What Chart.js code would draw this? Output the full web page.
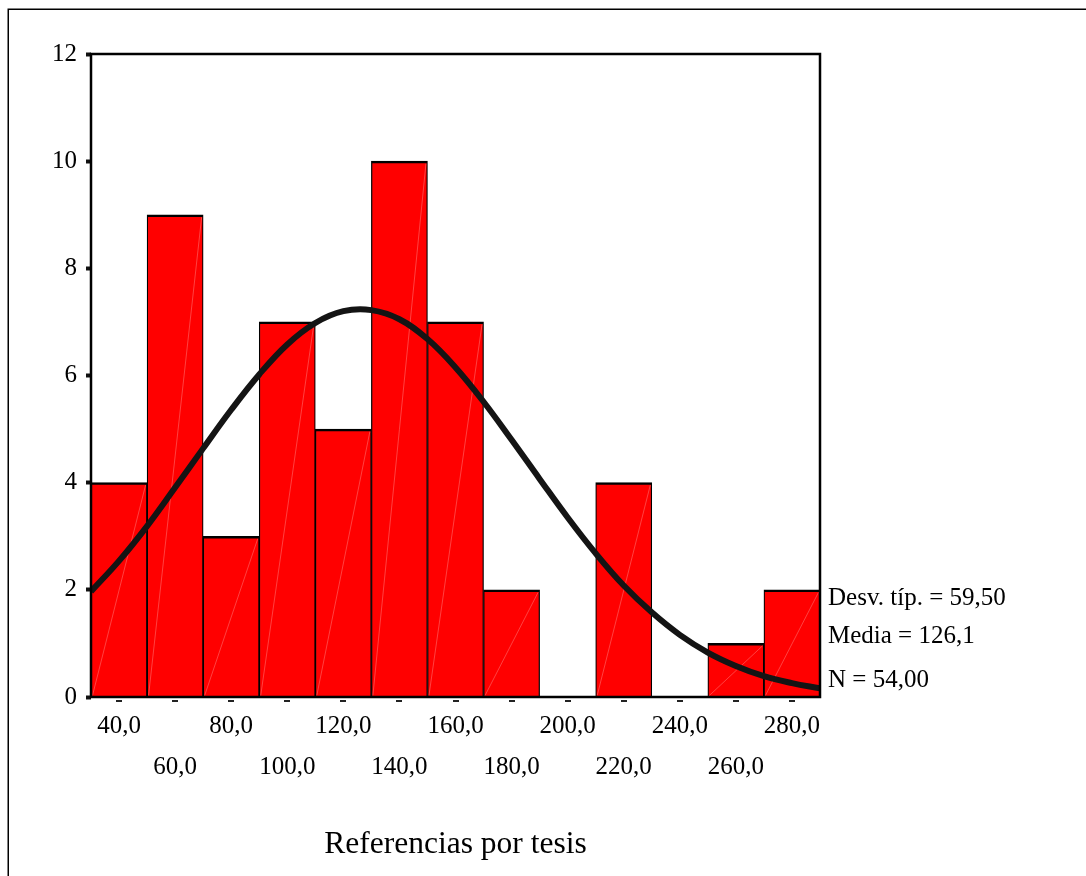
<!DOCTYPE html>
<html lang="es">
<head>
<meta charset="utf-8">
<title>Referencias por tesis</title>
<script src="https://cdn.jsdelivr.net/npm/chart.js@4/dist/chart.umd.min.js"></script>
<style>
  html, body { margin: 0; padding: 0; background: #ffffff; }
  canvas { display: block; }
</style>
</head>
<body>
<canvas id="hist" width="1086" height="876"></canvas>
<script>
// Histogram bins (centre of each 20-wide class) and their frequencies
const binCenters = [40, 60, 80, 100, 120, 140, 160, 180, 200, 220, 240, 260, 280];
const binCounts  = [4, 9, 3, 7, 5, 10, 7, 2, 0, 4, 0, 1, 2];

// Fitted normal curve, sampled every 10 units across the axis range
const curveX = [30, 40, 50, 60, 70, 80, 90, 100, 110, 120, 130, 140, 150, 160,
                170, 180, 190, 200, 210, 220, 230, 240, 250, 260, 270, 280, 290];
const curveY = [1.97, 2.54, 3.19, 3.91, 4.64, 5.36, 6.02, 6.58, 6.98, 7.20, 7.22, 7.05, 6.68, 6.15,
                5.51, 4.80, 4.07, 3.35, 2.68, 2.08, 1.58, 1.16, 0.83, 0.58, 0.39, 0.26, 0.16];

// Y axis ticks
const yTicks = [0, 2, 4, 6, 8, 10, 12];

// Summary statistics
const statStdDev = 59.50;
const statMean = 126.1;
const statN = 54;

const axisTitle = 'Referencias por tesis';
const serif = '"Liberation Serif", "Times New Roman", Times, serif';

const comma = (v, d) => v.toFixed(d).replace('.', ',');
const statLines = [
  'Desv. típ. = ' + comma(statStdDev, 2),
  'Media = ' + comma(statMean, 1),
  'N = ' + comma(statN, 2)
];

// Outer frame of the output panel (top and left edges)
const panelFrame = {
  id: 'panelFrame',
  beforeDraw(chart) {
    const ctx = chart.ctx;
    ctx.save();
    ctx.strokeStyle = '#000';
    ctx.lineWidth = 1.5;
    ctx.beginPath();
    ctx.moveTo(1086, 9.25);
    ctx.lineTo(8.25, 9.25);
    ctx.lineTo(8.25, 876);
    ctx.stroke();
    ctx.restore();
  }
};

// Faint diagonal seam across each red bar
const barSeams = {
  id: 'barSeams',
  afterDatasetDraw(chart, args) {
    if (chart.data.datasets[args.index].type !== 'bar') return;
    const ctx = chart.ctx;
    ctx.save();
    ctx.strokeStyle = 'rgba(255,150,150,0.55)';
    ctx.lineWidth = 0.8;
    args.meta.data.forEach(bar => {
      const p = bar.getProps(['x', 'y', 'base', 'width'], true);
      if (p.base - p.y < 3) return;
      ctx.beginPath();
      ctx.moveTo(p.x - p.width / 2 + 1.5, p.base - 1);
      ctx.lineTo(p.x + p.width / 2 - 1.5, p.y + 2.5);
      ctx.stroke();
    });
    ctx.restore();
  }
};

// Plot frame, x tick dashes and the statistics block
const plotDecor = {
  id: 'plotDecor',
  afterDraw(chart) {
    const ctx = chart.ctx;
    const a = chart.chartArea;
    const xs = chart.scales.x;
    ctx.save();
    ctx.strokeStyle = '#000';
    ctx.lineWidth = 2.5;
    ctx.strokeRect(a.left, a.top, a.right - a.left, a.bottom - a.top);

    ctx.fillStyle = '#222';
    binCenters.forEach(v => {
      const px = xs.getPixelForValue(v);
      ctx.fillRect(Math.round(px) - 3, a.bottom + 3, 6, 2);
    });

    ctx.fillStyle = '#000';
    ctx.font = '25px ' + serif;
    ctx.textAlign = 'left';
    ctx.textBaseline = 'alphabetic';
    const baselines = [605, 643, 687];
    statLines.forEach((t, i) => ctx.fillText(t, a.right + 8, baselines[i]));
    ctx.restore();
  }
};

const ctx = document.getElementById('hist').getContext('2d');
new Chart(ctx, {
  type: 'bar',
  data: {
    datasets: [
      {
        type: 'line',
        order: 0,
        data: curveX.map((x, i) => ({ x: x, y: curveY[i] })),
        borderColor: '#141414',
        borderWidth: 6,
        pointRadius: 0,
        tension: 0.4,
        fill: false
      },
      {
        type: 'bar',
        order: 1,
        data: binCenters.map((x, i) => ({ x: x, y: binCounts[i] })),
        backgroundColor: '#ff0000',
        borderColor: '#000000',
        borderWidth: { top: 2.5, left: 1.25, right: 1.25, bottom: 0 },
        borderSkipped: false,
        barPercentage: 1,
        categoryPercentage: 1
      }
    ]
  },
  options: {
    responsive: false,
    animation: false,
    devicePixelRatio: 1,
    layout: { padding: { left: 0, top: 54, right: 266, bottom: 0 } },
    plugins: {
      legend: { display: false },
      tooltip: { enabled: false }
    },
    scales: {
      x: {
        type: 'linear',
        min: 30,
        max: 290,
        offset: false,
        afterBuildTicks(scale) {
          scale.ticks = binCenters.map(v => ({ value: v }));
        },
        afterFit(scale) { scale.height = 179; },
        grid: { display: false, drawTicks: false, offset: false },
        border: { display: false },
        ticks: {
          autoSkip: false,
          maxRotation: 0,
          padding: 9,
          color: '#000',
          font: { family: serif, size: 25, lineHeight: 1.64 },
          callback(value, index) {
            const t = comma(value, 1);
            return index % 2 === 0 ? [t, ''] : ['', t];
          }
        },
        title: {
          display: true,
          text: axisTitle,
          color: '#000',
          font: { family: serif, size: 31.5, lineHeight: 1.2 },
          padding: { top: 0, bottom: 12 }
        }
      },
      y: {
        min: 0,
        max: 12,
        afterBuildTicks(scale) {
          scale.ticks = yTicks.map(v => ({ value: v }));
        },
        afterFit(scale) { scale.width = 91; },
        grid: {
          drawOnChartArea: false,
          drawTicks: true,
          tickLength: 5,
          tickWidth: 4,
          tickColor: '#111'
        },
        border: { display: false },
        ticks: {
          padding: 9,
          color: '#000',
          font: { family: serif, size: 25 }
        }
      }
    }
  },
  plugins: [panelFrame, barSeams, plotDecor]
});
</script>
</body>
</html>
